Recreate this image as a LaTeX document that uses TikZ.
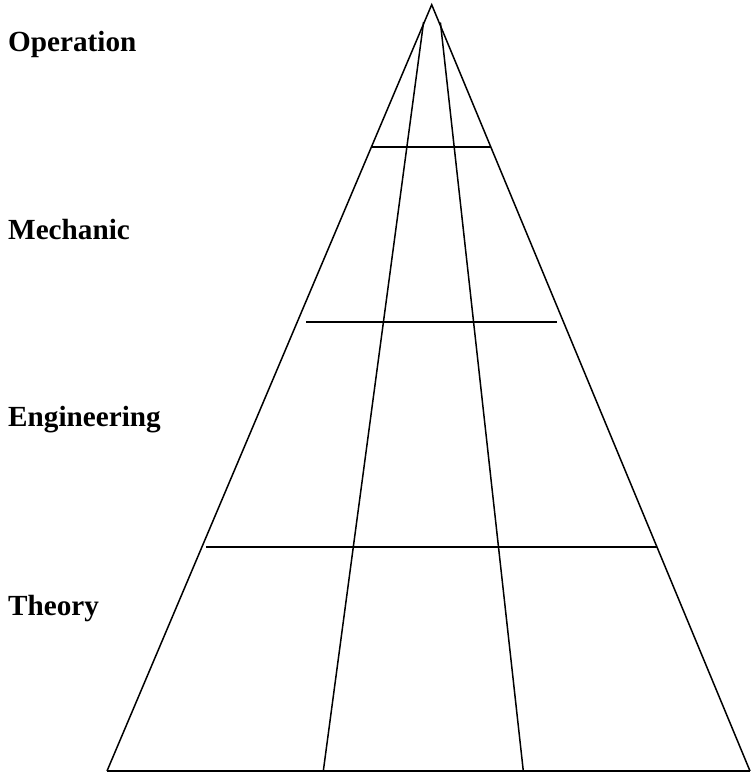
\documentclass[tikz,border=0pt]{standalone}
\usepackage{fontspec}
\setmainfont{Liberation Serif}
\begin{document}
\begin{tikzpicture}[x=1pt,y=-1pt,
  edge/.style={line width=1.5pt,black},
  lbl/.style={anchor=base west,inner sep=0pt,font=\fontsize{29.2}{31}\selectfont\bfseries}]
\useasboundingbox (0,0) rectangle (750,773);
\coordinate (apex) at (431.7,4.7);
\coordinate (bl) at (107,771);
\coordinate (br) at (750,771);
\coordinate (it1) at (423.6,22);
\coordinate (it2) at (440.4,22.5);
\coordinate (ib1) at (323.3,771);
\coordinate (ib2) at (523.3,771);
\draw[edge,line join=miter] (bl) -- (apex) -- (br);
\draw[edge] (bl) -- (br);
\draw[edge] (it1) -- (ib1);
\draw[edge] (it2) -- (ib2);
\coordinate (h1a) at (372,147); \coordinate (h1b) at (491,147);
\coordinate (h2a) at (306,322); \coordinate (h2b) at (556.5,322);
\coordinate (h3a) at (206,547); \coordinate (h3b) at (656.5,547);
\draw[edge] (h1a) -- (h1b);
\draw[edge] (h2a) -- (h2b);
\draw[edge] (h3a) -- (h3b);
\node[lbl] (op) at (8,52) {Operation};
\node[lbl] (me) at (8,239.5) {Mechanic};
\node[lbl] (en) at (8,426) {Engineering};
\node[lbl] (th) at (8,615) {Theory};
\end{tikzpicture}
\end{document}
